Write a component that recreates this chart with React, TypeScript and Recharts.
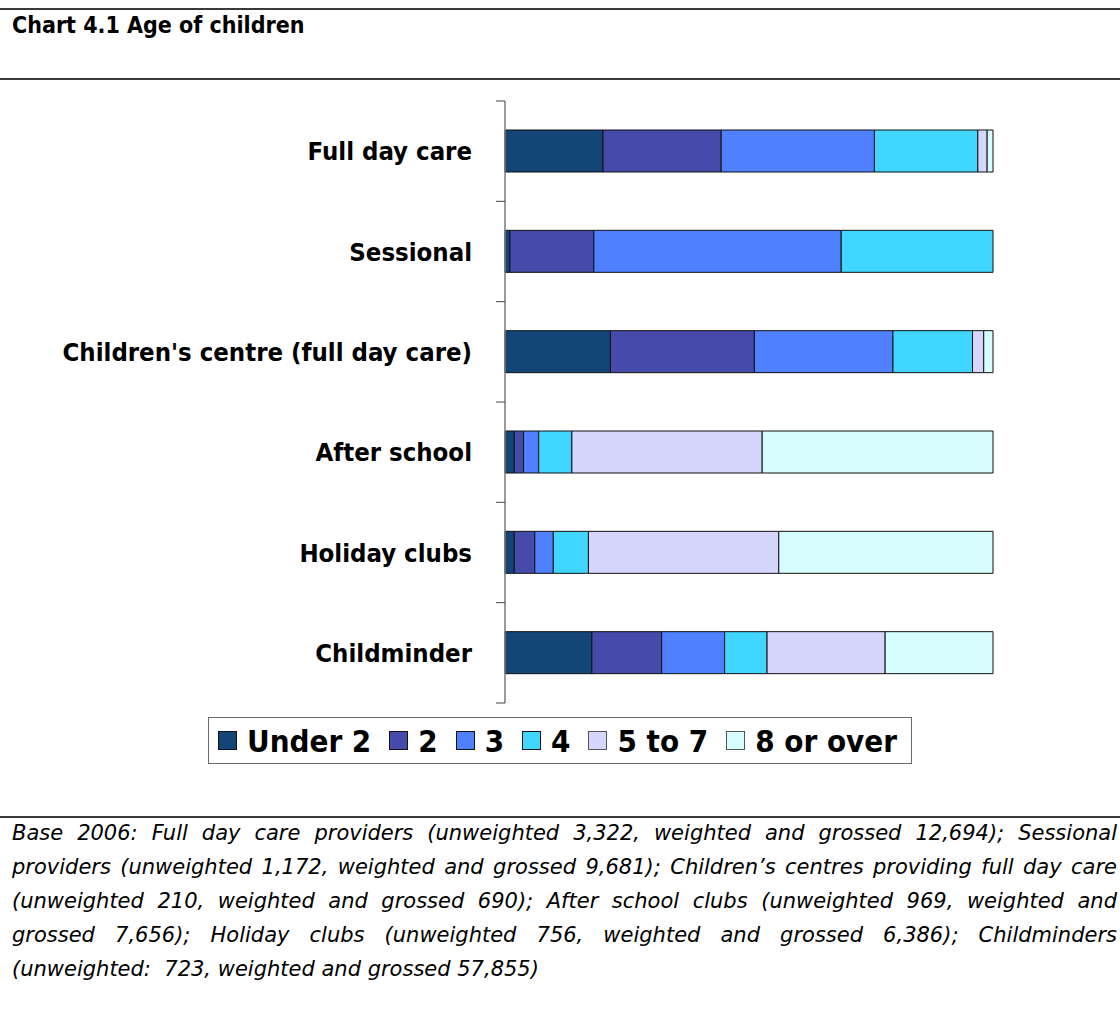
import React from "react";
import { BarChart, Bar, XAxis, YAxis } from "recharts";

const categories = [
  "Full day care",
  "Sessional",
  "Children's centre (full day care)",
  "After school",
  "Holiday clubs",
  "Childminder",
];

// share of children (%) in each age band, per provider type
const under2 = [20.1, 1.0, 21.6, 1.9, 1.9, 17.8];
const age2 = [24.2, 17.2, 29.5, 1.9, 4.2, 14.3];
const age3 = [31.4, 50.7, 28.4, 3.1, 3.8, 12.9];
const age4 = [21.2, 31.1, 16.3, 6.8, 7.2, 8.7];
const age5to7 = [1.9, 0, 2.3, 39.0, 39.0, 24.2];
const age8plus = [1.2, 0, 1.9, 47.3, 43.9, 22.1];

const series = [
  { key: "under2", label: "Under 2", values: under2, color: "#134577", edge: "#111" },
  { key: "age2", label: "2", values: age2, color: "#464aab", edge: "#111" },
  { key: "age3", label: "3", values: age3, color: "#4f80ff", edge: "#111" },
  { key: "age4", label: "4", values: age4, color: "#40d6ff", edge: "#111" },
  { key: "age5to7", label: "5 to 7", values: age5to7, color: "#d6d6fc", edge: "#555" },
  { key: "age8plus", label: "8 or over", values: age8plus, color: "#d7fefe", edge: "#555" },
];

const footnote = [
  "Base 2006: Full day care providers (unweighted 3,322, weighted and grossed 12,694); Sessional",
  "providers (unweighted 1,172, weighted and grossed 9,681); Children\u2019s centres providing full day care",
  "(unweighted 210, weighted and grossed 690); After school clubs (unweighted 969, weighted and",
  "grossed 7,656); Holiday clubs (unweighted 756, weighted and grossed 6,386); Childminders",
  "(unweighted:  723, weighted and grossed 57,855)",
];

const rows = categories.map((name, i) => {
  const row: Record<string, string | number> = { name };
  series.forEach((s) => {
    row[s.key] = s.values[i];
  });
  return row;
});

const boldFont = "'DejaVu Sans Condensed', 'DejaVu Sans', sans-serif";
const LABEL_GAP = 33;
const TICK_LEN = 9;

// label plus Excel-style tick marks on the category boundaries
function CategoryTick({ x, y, payload, index, visibleTicksCount }: any) {
  const half = payload?.offset || 50.17;
  const axisX = x + LABEL_GAP;
  const last = index === visibleTicksCount - 1;
  return (
    <g>
      <line
        x1={axisX - TICK_LEN}
        x2={axisX}
        y1={y - half}
        y2={y - half}
        stroke="#444"
        strokeWidth={1}
      />
      {last && (
        <line
          x1={axisX - TICK_LEN}
          x2={axisX}
          y1={y + half}
          y2={y + half}
          stroke="#444"
          strokeWidth={1}
        />
      )}
      <text
        x={x}
        y={y}
        textAnchor="end"
        dominantBaseline="central"
        fontFamily={boldFont}
        fontWeight="bold"
        fontSize={25.5}
        fill="#000"
      >
        {payload.value}
      </text>
    </g>
  );
}

function Rule({ top }: { top: number }) {
  return (
    <div
      style={{
        position: "absolute",
        left: 0,
        top,
        width: 1120,
        height: 2,
        background: "#3a3a3a",
      }}
    />
  );
}

export default function App() {
  return (
    <div
      style={{
        position: "absolute",
        left: 0,
        top: 0,
        width: 1120,
        height: 1012,
        background: "#fff",
        overflow: "hidden",
      }}
    >
      <Rule top={8} />
      <div
        style={{
          position: "absolute",
          left: 12,
          top: 13,
          fontFamily: boldFont,
          fontWeight: "bold",
          fontSize: 23,
          lineHeight: "24px",
          color: "#000",
        }}
      >
        Chart 4.1 Age of children
      </div>
      <Rule top={78} />

      <div style={{ position: "absolute", left: 0, top: 0 }}>
        <BarChart
          width={1120}
          height={800}
          data={rows}
          layout="vertical"
          margin={{ top: 101, right: 127, bottom: 97, left: 0 }}
          barSize={42}
        >
          <XAxis type="number" domain={[0, 100]} hide />
          <YAxis
            type="category"
            dataKey="name"
            width={505}
            axisLine={{ stroke: "#7a7a7a", strokeWidth: 1.5 }}
            tickLine={false}
            tickSize={0}
            tickMargin={LABEL_GAP}
            interval={0}
            tick={<CategoryTick />}
          />
          {series.map((s) => (
            <Bar
              key={s.key}
              dataKey={s.key}
              stackId="age"
              fill={s.color}
              stroke="#111"
              strokeWidth={1}
              isAnimationActive={false}
            />
          ))}
        </BarChart>
      </div>

      <div
        style={{
          position: "absolute",
          left: 208,
          top: 717,
          width: 704,
          height: 47,
          boxSizing: "border-box",
          border: "1px solid #6a6a6a",
          display: "flex",
          alignItems: "center",
          paddingLeft: 9,
          whiteSpace: "nowrap",
        }}
      >
        {series.map((s) => (
          <div
            key={s.key}
            style={{
              display: "flex",
              alignItems: "center",
              marginRight: 18,
              flexShrink: 0,
            }}
          >
            <span
              style={{
                display: "inline-block",
                width: 19,
                height: 19,
                boxSizing: "border-box",
                background: s.color,
                border: `1.5px solid ${s.edge}`,
              }}
            />
            <span
              style={{
                marginLeft: 10,
                fontFamily: boldFont,
                fontWeight: "bold",
                fontSize: 31,
                lineHeight: "34px",
                color: "#000",
              }}
            >
              {s.label}
            </span>
          </div>
        ))}
      </div>

      <Rule top={816} />
      <div
        style={{
          position: "absolute",
          left: 12,
          top: 816,
          width: 1105,
          fontFamily: "'DejaVu Sans', Verdana, sans-serif",
          fontStyle: "italic",
          fontSize: 21,
          lineHeight: "34px",
          color: "#000",
        }}
      >
        {footnote.map((line, i) => (
          <div
            key={i}
            style={{
              textAlign: i < footnote.length - 1 ? "justify" : "left",
              textAlignLast: i < footnote.length - 1 ? "justify" : "left",
              whiteSpace: i < footnote.length - 1 ? "nowrap" : "pre",
            }}
          >
            {line}
          </div>
        ))}
      </div>
    </div>
  );
}
